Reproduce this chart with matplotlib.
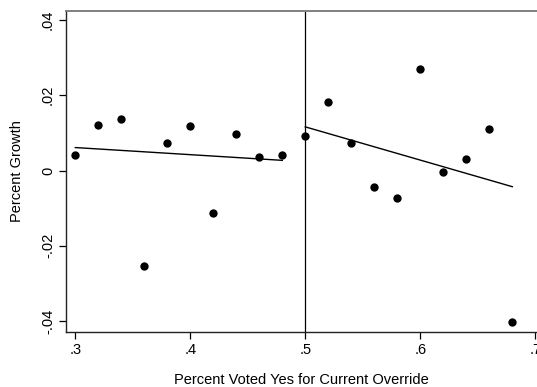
import matplotlib
matplotlib.use("Agg")
import matplotlib.pyplot as plt
import numpy as np

plt.rcParams['font.family'] = ['Liberation Sans', 'DejaVu Sans']

# Binned means of growth by vote share
vote_share = [0.30, 0.32, 0.34, 0.36, 0.38, 0.40, 0.42, 0.44, 0.46, 0.48,
              0.50, 0.52, 0.54, 0.56, 0.58, 0.60, 0.62, 0.64, 0.66, 0.68]
growth = [0.0041, 0.0120, 0.0137, -0.0254, 0.0072, 0.0117, -0.0112, 0.0098, 0.0036, 0.0040,
          0.0092, 0.0183, 0.0074, -0.0043, -0.0073, 0.0271, -0.0004, 0.0030, 0.0110, -0.0403]

# Fitted lines on each side of the 50% threshold (start/end values)
fit_left_x = [0.30, 0.48]
fit_left_y = [0.0061, 0.0027]
fit_right_x = [0.50, 0.68]
fit_right_y = [0.0116, -0.0043]
threshold = 0.5

x_ticks = [0.3, 0.4, 0.5, 0.6, 0.7]
x_tick_labels = ['.3', '.4', '.5', '.6', '.7']
y_ticks = [-0.04, -0.02, 0.0, 0.02, 0.04]
y_tick_labels = ['-.04', '-.02', '0', '.02', '.04']

fig = plt.figure(figsize=(5.37, 3.87), dpi=100)
W, H = 537, 387
left_px, right_px, top_px, bottom_px = 66, 537, 11, 331.7
ax = fig.add_axes([left_px / W, 1 - bottom_px / H, (right_px - left_px) / W, (bottom_px - top_px) / H])

ax.scatter(vote_share, growth, s=36, color='black', zorder=3, linewidths=0)
ax.plot(fit_left_x, fit_left_y, color='black', lw=1.0)
ax.plot(fit_right_x, fit_right_y, color='black', lw=1.0)
ax.axvline(threshold, color='black', lw=0.9)

ax.set_xlim(0.2919, 0.7015)
ax.set_ylim(-0.04285, 0.0424)

ax.set_xticks(x_ticks)
ax.set_xticklabels(x_tick_labels)
ax.set_yticks(y_ticks)
ax.set_yticklabels(y_tick_labels, rotation=90, va='center')

ax.tick_params(axis='both', length=5, width=0.9, color='black', labelsize=10.5, pad=3)

ax.spines['right'].set_visible(False)
ax.spines['top'].set_color('#808080')
ax.spines['top'].set_linewidth(1.4)
for s in ('left', 'bottom'):
    ax.spines[s].set_color('#222222')
    ax.spines[s].set_linewidth(1.0)

ax.set_xlabel('Percent Voted Yes for Current Override', fontsize=10.5, labelpad=12)
ax.set_ylabel('Percent Growth', fontsize=10.5, labelpad=12)

fig.savefig('out.png', dpi=100)
